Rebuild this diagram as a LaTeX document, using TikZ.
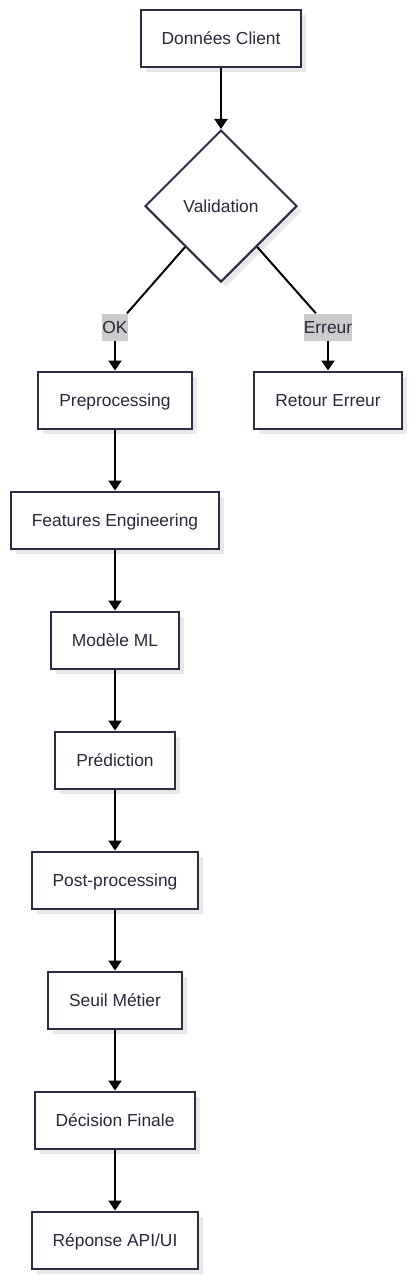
\documentclass[tikz,border=0pt]{standalone}
\usepackage{fontspec}
\setmainfont{Liberation Sans}
\usetikzlibrary{shapes.geometric,arrows.meta,shadows}
\definecolor{boxline}{RGB}{44,44,66}
\definecolor{boxtext}{RGB}{40,40,58}
\definecolor{labelfill}{RGB}{204,204,204}
\tikzset{
  boxshadow/.style={drop shadow={shadow xshift=5pt,shadow yshift=-5pt,fill=black!9,opacity=1}},
  stepbox/.style={draw=boxline,line width=2pt,fill=white,text=boxtext,boxshadow,
    inner xsep=21pt,inner ysep=0pt,minimum height=57pt,
    text height=12.5pt,text depth=0.5pt,font=\fontsize{17.4}{20}\selectfont},
  checkbox/.style={diamond,aspect=1,draw=boxline,line width=2pt,fill=white,text=boxtext,boxshadow,
    inner sep=0pt,minimum width=152pt,minimum height=152pt,
    text height=12.5pt,text depth=0.5pt,font=\fontsize{17.4}{20}\selectfont},
  flowlabel/.style={fill=labelfill,text=boxtext,inner sep=0pt,minimum height=27pt,
    text height=12.5pt,text depth=0.5pt,font=\fontsize{17.4}{20}\selectfont},
  flow/.style={line width=2pt,-{Triangle[length=10pt,width=13pt]}}
}
\begin{document}
\begin{tikzpicture}[x=1pt,y=-1pt]
    \useasboundingbox (0,0) rectangle (412,1278);
    \node[stepbox] (client) at (221,38.5) {Données Client};
    \node[checkbox] (valid) at (221,206) {Validation};
    \node[flowlabel] (ok) at (115,327) {OK};
    \node[flowlabel] (err) at (328,327) {Erreur};
    \node[stepbox] (prep) at (115,400) {Preprocessing};
    \node[stepbox] (retour) at (328,400) {Retour Erreur};
    \node[stepbox] (feat) at (115,520) {Features Engineering};
    \node[stepbox] (model) at (115,640) {Modèle ML};
    \node[stepbox] (pred) at (115,760) {Prédiction};
    \node[stepbox] (post) at (115,880) {Post-processing};
    \node[stepbox] (seuil) at (115,1000) {Seuil Métier};
    \node[stepbox] (decis) at (115,1120) {Décision Finale};
    \node[stepbox] (reponse) at (115,1240) {Réponse API/UI};
    \draw[flow] (client) -- (valid);
    \draw[line width=2pt] (valid) -- (ok);
    \draw[flow] (ok) -- (prep);
    \draw[line width=2pt] (valid) -- (err);
    \draw[flow] (err) -- (retour);
    \draw[flow] (prep) -- (feat);
    \draw[flow] (feat) -- (model);
    \draw[flow] (model) -- (pred);
    \draw[flow] (pred) -- (post);
    \draw[flow] (post) -- (seuil);
    \draw[flow] (seuil) -- (decis);
    \draw[flow] (decis) -- (reponse);
\end{tikzpicture}
\end{document}
